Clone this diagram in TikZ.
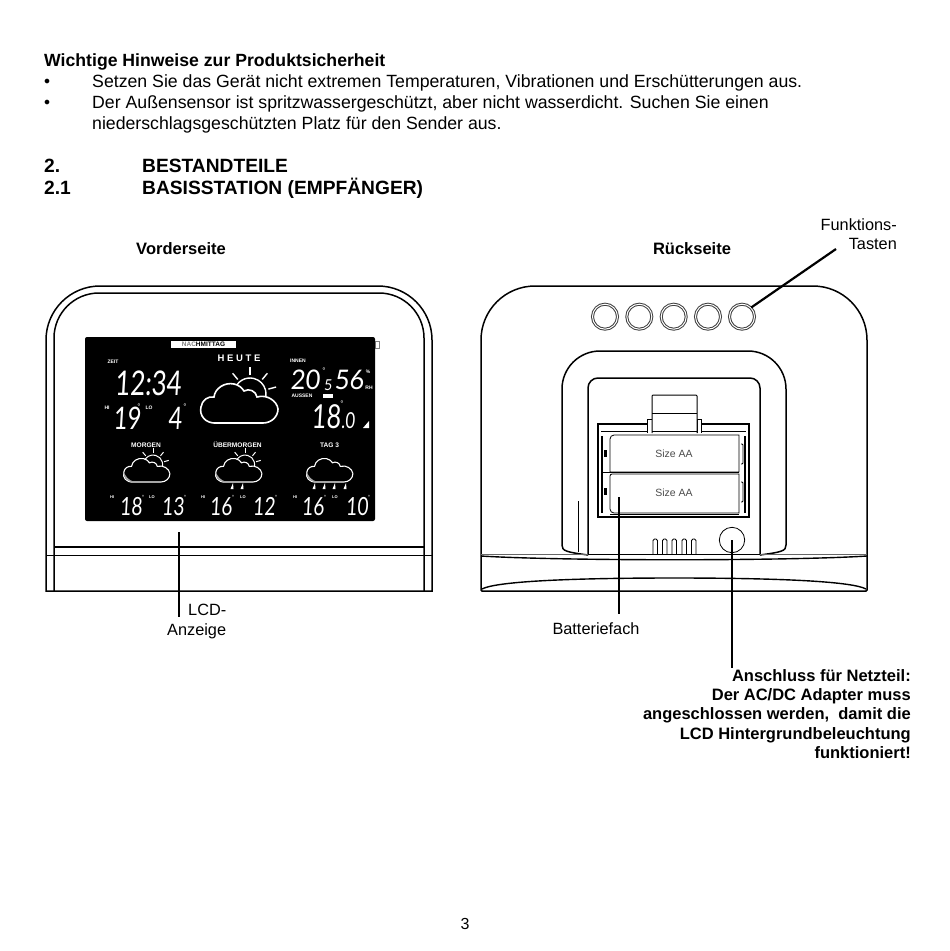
\documentclass[tikz,border=0pt]{standalone}
\usepackage{fontspec}
\setmainfont{Liberation Sans}
\newfontfamily\lcdfont[FakeSlant=0.08]{Lato}
\usetikzlibrary{calc}
\usetikzlibrary{positioning}

\newcommand{\lcdziffer}[1]{\scalebox{.76}[1]{\lcdfont #1}}
\newcommand{\lcdbreit}[1]{\scalebox{.94}[1]{\lcdfont #1}}

\tikzset{
	body text/.style={anchor=base west,inner sep=0pt,font=\fontsize{17.7}{19}\selectfont},
	head text/.style={anchor=base west,inner sep=0pt,font=\fontsize{19.2}{20}\selectfont\bfseries},
	call text/.style={inner sep=0pt,font=\fontsize{16.3}{19.2}\selectfont},
	side text/.style={inner sep=0pt,font=\fontsize{16.5}{19.3}\selectfont\bfseries},
	big digit/.style={white,inner sep=0pt,font=\fontsize{34}{34}\selectfont},
	mid digit/.style={white,inner sep=0pt,font=\fontsize{31}{31}\selectfont},
	low digit/.style={white,inner sep=0pt,anchor=base,font=\fontsize{25}{25}\selectfont},
	tiny label/.style={white,inner sep=0pt,font=\fontsize{5}{5}\selectfont\bfseries},
	day label/.style={white,inner sep=0pt,font=\fontsize{6.6}{7}\selectfont\bfseries},
	degree/.style={white,inner sep=0pt,font=\fontsize{8}{8}\selectfont},
	housing/.style={line width=1.5pt,black},
	thin part/.style={line width=.8pt,black},
	leader/.style={line width=1.4pt,black},
	button/.style={circle,draw=black!75,double,double distance=1pt,line width=1pt,minimum size=25pt,inner sep=0pt},
	pics/cloud/.style={code={
		\path[draw=white,fill=black,line width=#1]
			(-22,20) .. controls (-34,21) and (-40,12) .. (-38,4)
			.. controls (-37,-3) and (-31,-7) .. (-25,-6)
			.. controls (-24,-15) and (-14,-21) .. (-5,-19)
			.. controls (0,-18) and (3,-15) .. (5,-12)
			.. controls (10,-15) and (17,-12) .. (18,-6)
			.. controls (28,-9) and (38,-2) .. (39,6)
			.. controls (39,14) and (32,20) .. (24,20) -- cycle;
	}},
	pics/sun/.style={code={
		\draw[white,line width=#1] ($ (11,-9) + (195:16) $) arc[start angle=195,end angle=385,radius=16];
		\foreach \ang in {230,270,310,345}
			\draw[white,line width=#1] ($ (11,-9) + (\ang:19) $) -- ($ (11,-9) + (\ang:27) $);
	}},
	drop/.style={white,fill=white}
}

\begin{document}
\begin{tikzpicture}[x=1pt,y=-1pt]
	\useasboundingbox[fill=white] (0,0) rectangle (950,951);

	% text at the top
	\node[head text,font=\fontsize{17.65}{19}\selectfont\bfseries] (hinweise) at (44,66) {Wichtige Hinweise zur Produktsicherheit};
	\node[inner sep=0pt,font=\fontsize{12}{12}\selectfont] (punkt1) at (47,81.5) {$\bullet$};
	\node[body text] (zeile1) at (92,87) {Setzen Sie das Gerät nicht extremen Temperaturen, Vibrationen und Erschütterungen aus.};
	\node[inner sep=0pt,font=\fontsize{12}{12}\selectfont] (punkt2) at (47,102.5) {$\bullet$};
	\node[body text] (zeile2) at (92,108) {Der Außensensor ist spritzwassergeschützt, aber nicht wasserdicht. Suchen Sie einen};
	\node[body text] (zeile3) at (92,129) {niederschlagsgeschützten Platz für den Sender aus.};
	\node[head text] (nr2) at (44,172.5) {2.};
	\node[head text] (bestand) at (142,172.5) {BESTANDTEILE};
	\node[head text] (nr21) at (44,194.5) {2.1};
	\node[head text] (basis) at (142,194.5) {BASISSTATION (EMPFÄNGER)};

	\node[side text] (vorne) at (181,249) {Vorderseite};
	\node[side text] (hinten) at (692,249) {Rückseite};
	\node[call text,align=right,anchor=north east] (tasten) at (897,218) {Funktions-\\Tasten};

	% front side
	\draw[housing] (46,591) -- (46,340) arc[start angle=180,end angle=270,radius=54] -- (378,286) arc[start angle=270,end angle=360,radius=54] -- (432,591) -- cycle;
	\draw[housing] (54,591) -- (54,338) arc[start angle=180,end angle=270,radius=45] -- (379,293) arc[start angle=270,end angle=360,radius=45] -- (424,591);
	\draw[housing] (54,547) -- (424,547);
	\draw[thin part] (46,555) -- (432,555);

	\draw[gray,line width=.5pt] (375,341) rectangle (379,348);
	\node[fill=black,rounded corners=2pt,minimum width=290pt,minimum height=184pt,inner sep=0pt] (lcd) at (230,429) {};
	\node[fill=white,minimum width=65pt,minimum height=7pt,inner sep=0pt,font=\fontsize{6.5}{6.5}\selectfont\bfseries] (tageszeit) at (203.5,344.5) {\textcolor{gray}{NAC}HMITTAG};

	\node[white,inner sep=0pt,font=\fontsize{9.5}{10}\selectfont\bfseries] (heute) at (239,358) {H E U T E};
	\node[tiny label] (zeit) at (113,362) {ZEIT};
	\node[big digit] (uhr) at (148,383) {\lcdziffer{12:34}};
	\node[tiny label] (hi1) at (107,408) {HI};
	\node[mid digit] (hoch) at (127,418) {\lcdziffer{19}};
	\node[degree] at (139,407) {°};
	\node[tiny label] (lo1) at (149,408) {LO};
	\node[mid digit] (tief) at (175,418) {\lcdziffer{4}};
	\node[degree] at (185,407) {°};

	\node[tiny label] (innen) at (298,361) {INNEN};
	\node[white,inner sep=0pt,font=\fontsize{27}{27}\selectfont] (innentemp) at (305,380) {\lcdbreit{20}};
	\node[degree] at (324,371) {°};
	\node[white,inner sep=0pt,font=\fontsize{15}{15}\selectfont] (innenrest) at (328,385) {\lcdbreit{5}};
	\node[white,inner sep=0pt,font=\fontsize{27}{27}\selectfont] (feuchte) at (349,380) {\lcdbreit{56}};
	\node[tiny label] (prozent) at (368,372) {\%};
	\node[tiny label] (rh) at (369,388) {RH};
	\node[tiny label] (aussen) at (302,396) {AUSSEN};
	\node[fill=white,minimum width=10pt,minimum height=4pt,inner sep=0pt] (batt) at (328,396) {};
	\node[white,inner sep=0pt,font=\fontsize{33}{33}\selectfont] (aussentemp) at (326,417) {\lcdziffer{18}};
	\node[white,inner sep=0pt,font=\fontsize{22}{22}\selectfont] (aussenrest) at (348,421) {\lcdziffer{.0}};
	\node[degree] at (342,404) {°};
	\fill[white] (363,428) -- (369,421) -- (369,428) -- cycle;

	% weather of today
	\pic at (239,403) {sun=1.4pt};
	\pic at (239,403) {cloud=1.6pt};

	% three days
	\foreach \xpos/\name in {146/MORGEN,237.5/ÜBERMORGEN,329.5/TAG 3}
		\node[day label] (tag\xpos) at (\xpos,445) {\name};
	\pic[scale=.6] at (146.5,470) {sun=1pt};
	\pic[scale=.6] at (146.5,470) {cloud=1.1pt};
	\pic[scale=.6] at (238.5,470) {sun=1pt};
	\pic[scale=.6] at (238.5,470) {cloud=1.1pt};
	\pic[scale=.6] at (329.5,470) {cloud=1.1pt};
	\foreach \xpos in {146.5,238.5,329.5}
		\fill[gray!70] ($ (\xpos,470) + (-23,1) $) .. controls ($ (\xpos,470) + (-24,8) $) and ($ (\xpos,470) + (-18,13) $) .. ($ (\xpos,470) + (-12,12) $) .. controls ($ (\xpos,470) + (-18,10) $) and ($ (\xpos,470) + (-21,7) $) .. cycle;
	\foreach \xpos in {232,242,314,324,334,345}
		\fill[drop] (\xpos+1,483) -- (\xpos-1.5,489) -- (\xpos+1.5,489) -- cycle;

	\foreach \xa/\xb/\xc/\xd/\ta/\tb in {112/131/152/173/18/13,203/221/243/264/16/12,295/313/335/357/16/10}{
		\node[white,inner sep=0pt,font=\fontsize{4}{4}\selectfont\bfseries] at (\xa,497) {HI};
		\node[low digit] at (\xb,515) {\lcdziffer{\ta}};
		\node[degree,font=\fontsize{6}{6}\selectfont] at (\xb+12,497) {°};
		\node[white,inner sep=0pt,font=\fontsize{4}{4}\selectfont\bfseries] at (\xc,497) {LO};
		\node[low digit] at (\xd,515) {\lcdziffer{\tb}};
		\node[degree,font=\fontsize{6}{6}\selectfont] at (\xd+12,497) {°};
	}

	\coordinate (lcdfuss) at (179,532);
	\node[call text,anchor=north west] (lcdtext) at (188,604) {LCD-};
	\node[call text,anchor=north west] (anzeige) at (167,623) {Anzeige};
	\draw[leader,line width=2.4pt] (lcdfuss) -- ($ (lcdfuss) + (0,85) $);

	% back side
	\draw[housing,rounded corners=1pt] (481,340) -- (481,591) -- (867,591) -- (867,340);
	\draw[housing] (481,340) arc[start angle=180,end angle=270,radius=54] -- (813,286) arc[start angle=270,end angle=360,radius=54];
	\foreach \i/\xpos in {1/605,2/639.3,3/673.7,4/708,5/742}
		\node[button] (taste\i) at (\xpos,316.7) {};

	\draw[housing] (562,545) -- (562,389) arc[start angle=180,end angle=270,radius=38] -- (748,351) arc[start angle=270,end angle=360,radius=38] -- (786,545) .. controls (786,551) and (782,552) .. (760,555);
	\draw[housing] (562,545) .. controls (562,551) and (566,552) .. (588,555);
	\draw[housing] (588,555) -- (588,388) arc[start angle=180,end angle=270,radius=10] -- (750,378) arc[start angle=270,end angle=360,radius=10] -- (760,555);
	\draw[thin part] (578,501) -- (578,552);

	% battery compartment
	\draw[line width=2.4pt] (598,424) rectangle (749,517);
	\draw[thin part] (601,431) -- (746,431);
	\draw[thin part] (610,439) arc[start angle=180,end angle=270,radius=4] -- (739,435) -- (739,472) -- (610,472) -- cycle;
	\draw[thin part] (610,476) arc[start angle=180,end angle=270,radius=2] -- (739,474) -- (739,513) -- (614,513) arc[start angle=90,end angle=180,radius=4] -- cycle;
	\draw[line width=1.3pt] (603,472.5) -- (739,472.5);
	\draw[line width=1.3pt] (610,514.5) -- (739,514.5);
	\foreach \ypos in {450,488}{
		\fill (603.5,\ypos) rectangle (607,\ypos+7);
		\draw[thin part,rounded corners=1pt] (741,\ypos-6) -- (743,\ypos-6) -- (743,\ypos+14) -- (741,\ypos+14);
	}
	\draw[line width=1.2pt] (745,436) -- (745,513);
	\draw[line width=1.2pt] (602,436) -- (602,513);

	\draw[thin part,fill=white] (647,433) -- (647,419) -- (652,419) -- (652,433);
	\draw[thin part,fill=white] (697,433) -- (697,419) -- (701,419) -- (701,433);
	\draw[line width=1pt,fill=white,rounded corners=1pt] (652,433) -- (652,395) -- (697,395) -- (697,433);
	\draw[thin part] (652,413) -- (697,413);
	\draw[thin part] (652,431) -- (697,431);

	\node[text=black!70,inner sep=0pt,font=\fontsize{10.5}{10}\selectfont] (aa1) at (674,454) {Size AA};
	\node[text=black!70,inner sep=0pt,font=\fontsize{10.5}{10}\selectfont] (aa2) at (674,493) {Size AA};

	\foreach \xpos in {653,662.5,672,682,691.5}
		\draw[thin part,rounded corners=1.5pt] (\xpos,554) -- (\xpos,539) -- (\xpos+4.5,539) -- (\xpos+4.5,554);
	\node[circle,draw,line width=.8pt,minimum size=25.4pt,inner sep=0pt] (buchse) at (732,540) {};

	\draw[line width=1.4pt] (481,556) .. controls (560,561) and (790,561) .. (867,556);
	\draw[line width=.5pt,black!60] (481,554) -- (588,554);
	\draw[line width=.5pt,black!60] (760,554) -- (867,554);
	\draw[line width=1.3pt] (588,554.5) -- (760,554.5);
	\draw[line width=1.4pt] (482,589) .. controls (495,582) and (560,578) .. (674,578) .. controls (790,578) and (853,582) .. (866,589);

	\coordinate (fachpunkt) at (619,497);
	\node[call text,anchor=north] (fach) at (596,622) {Batteriefach};
	\draw[leader] (fachpunkt) -- ($ (fachpunkt) + (0,117) $);

	\node[side text,align=right,anchor=north east] (netzteil) at (911,669) {Anschluss für Netzteil:\\Der AC/DC Adapter muss\\angeschlossen werden,\ \ damit die\\LCD Hintergrundbeleuchtung\\funktioniert!};
	\draw[leader] (buchse.center) -- ($ (buchse.center) + (0,128) $);

	\coordinate (tastenende) at (836,249);
	\draw[leader,line width=2.2pt] (tastenende) -- (taste5.north east);

	\node[inner sep=0pt,font=\fontsize{16}{19}\selectfont] (seite) at (465,924) {3};
\end{tikzpicture}
\end{document}
